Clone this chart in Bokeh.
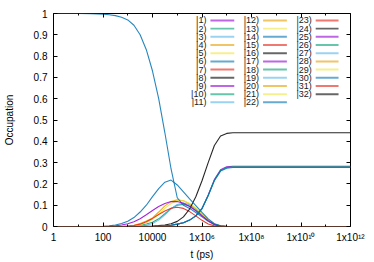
import numpy as np
from bokeh.plotting import figure
from bokeh.models import (Range1d, LogAxis, LinearAxis, FixedTicker, Label,
                          BoxAnnotation, ColumnDataSource)
from bokeh.embed import file_html
from bokeh.resources import INLINE

# ---------------- data ----------------
# sample times, as log10(t / ps)
log_t = [0, 1, 1.5, 2.0, 2.25, 2.5, 2.75, 3.0, 3.25, 3.5, 3.75, 4.0, 4.25, 4.5,
         4.75, 5.0, 5.25, 5.5, 5.75, 6.0, 6.25, 6.5, 6.75, 7.0, 7.25, 7.5, 8, 12]

# occupations of the populated states (same length as log_t)
occ_6 = [1.0, 1.0, 0.999, 0.997, 0.994, 0.99, 0.982, 0.97, 0.945, 0.90, 0.83, 0.73, 0.60, 0.44,
         0.27, 0.135, 0.10, 0.085, 0.066, 0.045, 0.024, 0.008, 0.002, 0, 0, 0, 0, 0]
occ_14 = [0, 0, 0, 0.001, 0.003, 0.007, 0.014, 0.025, 0.042, 0.068, 0.10, 0.14, 0.178, 0.208,
          0.218, 0.195, 0.163, 0.13, 0.098, 0.066, 0.036, 0.013, 0.003, 0, 0, 0, 0, 0]
occ_9 = [0, 0, 0, 0, 0.001, 0.003, 0.007, 0.013, 0.022, 0.036, 0.055, 0.075, 0.094, 0.108,
         0.117, 0.117, 0.109, 0.094, 0.074, 0.05, 0.027, 0.01, 0.002, 0, 0, 0, 0, 0]
occ_4 = [0, 0, 0, 0, 0, 0, 0, 0.002, 0.006, 0.014, 0.026, 0.04, 0.068, 0.097,
         0.117, 0.125, 0.121, 0.106, 0.083, 0.056, 0.03, 0.011, 0.002, 0, 0, 0, 0, 0]
occ_5 = [0, 0, 0, 0, 0, 0, 0, 0, 0.003, 0.008, 0.018, 0.034, 0.057, 0.085,
         0.108, 0.121, 0.121, 0.109, 0.087, 0.06, 0.033, 0.013, 0.003, 0, 0, 0, 0, 0]
occ_2 = [0, 0, 0, 0, 0, 0, 0, 0, 0.002, 0.006, 0.012, 0.02, 0.036, 0.06,
         0.085, 0.1, 0.104, 0.096, 0.077, 0.053, 0.029, 0.01, 0.002, 0, 0, 0, 0, 0]
occ_3 = [0, 0, 0, 0, 0, 0, 0, 0, 0, 0.002, 0.006, 0.014, 0.03, 0.055,
         0.083, 0.103, 0.11, 0.102, 0.083, 0.058, 0.032, 0.012, 0.002, 0, 0, 0, 0, 0]
occ_7 = [0, 0, 0, 0, 0, 0, 0, 0.002, 0.005, 0.011, 0.022, 0.038, 0.056, 0.073,
         0.086, 0.09, 0.085, 0.07, 0.05, 0.029, 0.012, 0.003, 0, 0, 0, 0, 0, 0]
occ_8 = [0, 0, 0, 0, 0, 0, 0, 0, 0, 0, 0.001, 0.002, 0.004, 0.007,
         0.013, 0.024, 0.045, 0.082, 0.14, 0.215, 0.30, 0.38, 0.425, 0.437, 0.44, 0.44, 0.44, 0.44]
occ_17 = [0, 0, 0, 0, 0, 0, 0, 0, 0, 0, 0, 0, 0.001, 0.003,
          0.006, 0.011, 0.018, 0.03, 0.05, 0.085, 0.148, 0.22, 0.266, 0.28, 0.283, 0.283, 0.283, 0.283]
occ_18 = [0, 0, 0, 0, 0, 0, 0, 0, 0, 0, 0, 0, 0.001, 0.003,
          0.006, 0.011, 0.018, 0.03, 0.05, 0.084, 0.146, 0.218, 0.263, 0.277, 0.28, 0.28, 0.28, 0.28]
occ_22 = [0, 0, 0, 0, 0, 0, 0, 0, 0, 0, 0, 0, 0.001, 0.003,
          0.006, 0.011, 0.018, 0.03, 0.05, 0.083, 0.144, 0.215, 0.26, 0.274, 0.277, 0.277, 0.277, 0.277]
occ_zero = [0] * len(log_t)

populated = {2: occ_2, 3: occ_3, 4: occ_4, 5: occ_5, 6: occ_6, 7: occ_7, 8: occ_8,
             9: occ_9, 14: occ_14, 17: occ_17, 18: occ_18, 22: occ_22}
n_states = 32
state_labels = [f"|{n})" for n in range(1, n_states + 1)]

# gnuplot default line colours (cycle of 8)
palette = ["#9400d3", "#009e73", "#56b4e9", "#e69f00",
           "#f0e442", "#0072b2", "#e51e10", "#000000"]

x_major = [1, 1e2, 1e4, 1e6, 1e8, 1e10, 1e12]
x_major_labels = ["1", "100", "10000", "1x10\u2076", "1x10\u2078", "1x10\u00b9\u2070", "1x10\u00b9\u00b2"]
x_minor = [1e1, 1e3, 1e5, 1e7, 1e9, 1e11]
y_major = [0, 0.1, 0.2, 0.3, 0.4, 0.5, 0.6, 0.7, 0.8, 0.9, 1]
y_major_labels = ["0", "0.1", "0.2", "0.3", "0.4", "0.5", "0.6", "0.7", "0.8", "0.9", "1"]

# ---------------- figure ----------------
FONT = "Liberation Sans"
p = figure(width=374, height=262, x_axis_type="log",
           x_range=Range1d(1, 1e12), y_range=Range1d(0, 1),
           output_backend="svg", toolbar_location=None,
           min_border_left=51, min_border_right=24, min_border_top=13, min_border_bottom=34)
p.xgrid.visible = False
p.ygrid.visible = False
p.outline_line_color = "black"
p.outline_line_width = 1
p.background_fill_color = "white"
p.border_fill_color = "white"

t_vals = [10 ** v for v in log_t]
for n in range(1, n_states + 1):
    vals = populated.get(n, occ_zero)
    src = ColumnDataSource(data=dict(t=t_vals, occ=vals))
    p.line("t", "occ", source=src, line_color=palette[(n - 1) % 8],
           line_width=1.1, line_alpha=0.85)


def style_axis(ax):
    ax.axis_line_color = None
    ax.major_tick_in = 4
    ax.major_tick_out = 0
    ax.minor_tick_in = 2
    ax.minor_tick_out = 0
    ax.major_tick_line_color = "black"
    ax.minor_tick_line_color = "black"
    ax.major_label_text_font = FONT
    ax.major_label_text_font_size = "10px"
    ax.major_label_text_color = "black"
    ax.axis_label_text_font = FONT
    ax.axis_label_text_font_size = "10px"
    ax.axis_label_text_font_style = "normal"
    ax.axis_label_text_color = "black"


xa = p.xaxis[0]
xa.ticker = FixedTicker(ticks=x_major, minor_ticks=x_minor)
xa.major_label_overrides = dict(zip(x_major, x_major_labels))
style_axis(xa)
xa.major_label_standoff = 5
xa.axis_label = "t (ps)"
xa.axis_label_standoff = 3

ya = p.yaxis[0]
ya.ticker = FixedTicker(ticks=y_major, minor_ticks=[])
ya.major_label_overrides = dict(zip(y_major, y_major_labels))
style_axis(ya)
ya.major_label_standoff = 6
ya.axis_label = "Occupation"
ya.axis_label_standoff = 16

# mirrored tick marks on top and right (no labels)
top = LogAxis(ticker=FixedTicker(ticks=x_major, minor_ticks=x_minor))
style_axis(top)
top.major_label_text_font_size = "1px"
top.major_label_text_color = None
top.major_label_standoff = 0
p.add_layout(top, "above")

right = LinearAxis(ticker=FixedTicker(ticks=y_major, minor_ticks=[]))
style_axis(right)
right.major_label_text_font_size = "1px"
right.major_label_text_color = None
right.major_label_standoff = 0
p.add_layout(right, "right")

# ---------------- key (label before sample, 3 columns) ----------------
X0, PX_DEC, Y0, PX_UNIT = 51.0, 24.92, 228.0, 215.0   # frame geometry in page px


def px_to_x(px):
    return 10 ** ((px - X0) / PX_DEC)


def px_to_y(py):
    return (Y0 - py) / PX_UNIT


col_text_right = [205, 258, 311]
col_sample = [(209, 233), (262, 286), (315, 338)]
row_top, row_step, rows_per_col = 20.0, 8.27, 11
for i, lab in enumerate(state_labels):
    c, r = divmod(i, rows_per_col)
    py = row_top + row_step * r
    yc = px_to_y(py)
    p.add_layout(Label(x=px_to_x(col_text_right[c]), y=yc, text=lab,
                       text_align="right", text_baseline="middle",
                       text_font=FONT, text_font_size="9px", text_color="#222222"))
    a, b = col_sample[c]
    p.add_layout(BoxAnnotation(left=px_to_x(a), right=px_to_x(b),
                               bottom=px_to_y(py + 1.0), top=px_to_y(py - 1.0),
                               fill_color=palette[i % 8], fill_alpha=0.6, line_color=None))

open("out.html", "w").write(file_html(p, INLINE))
